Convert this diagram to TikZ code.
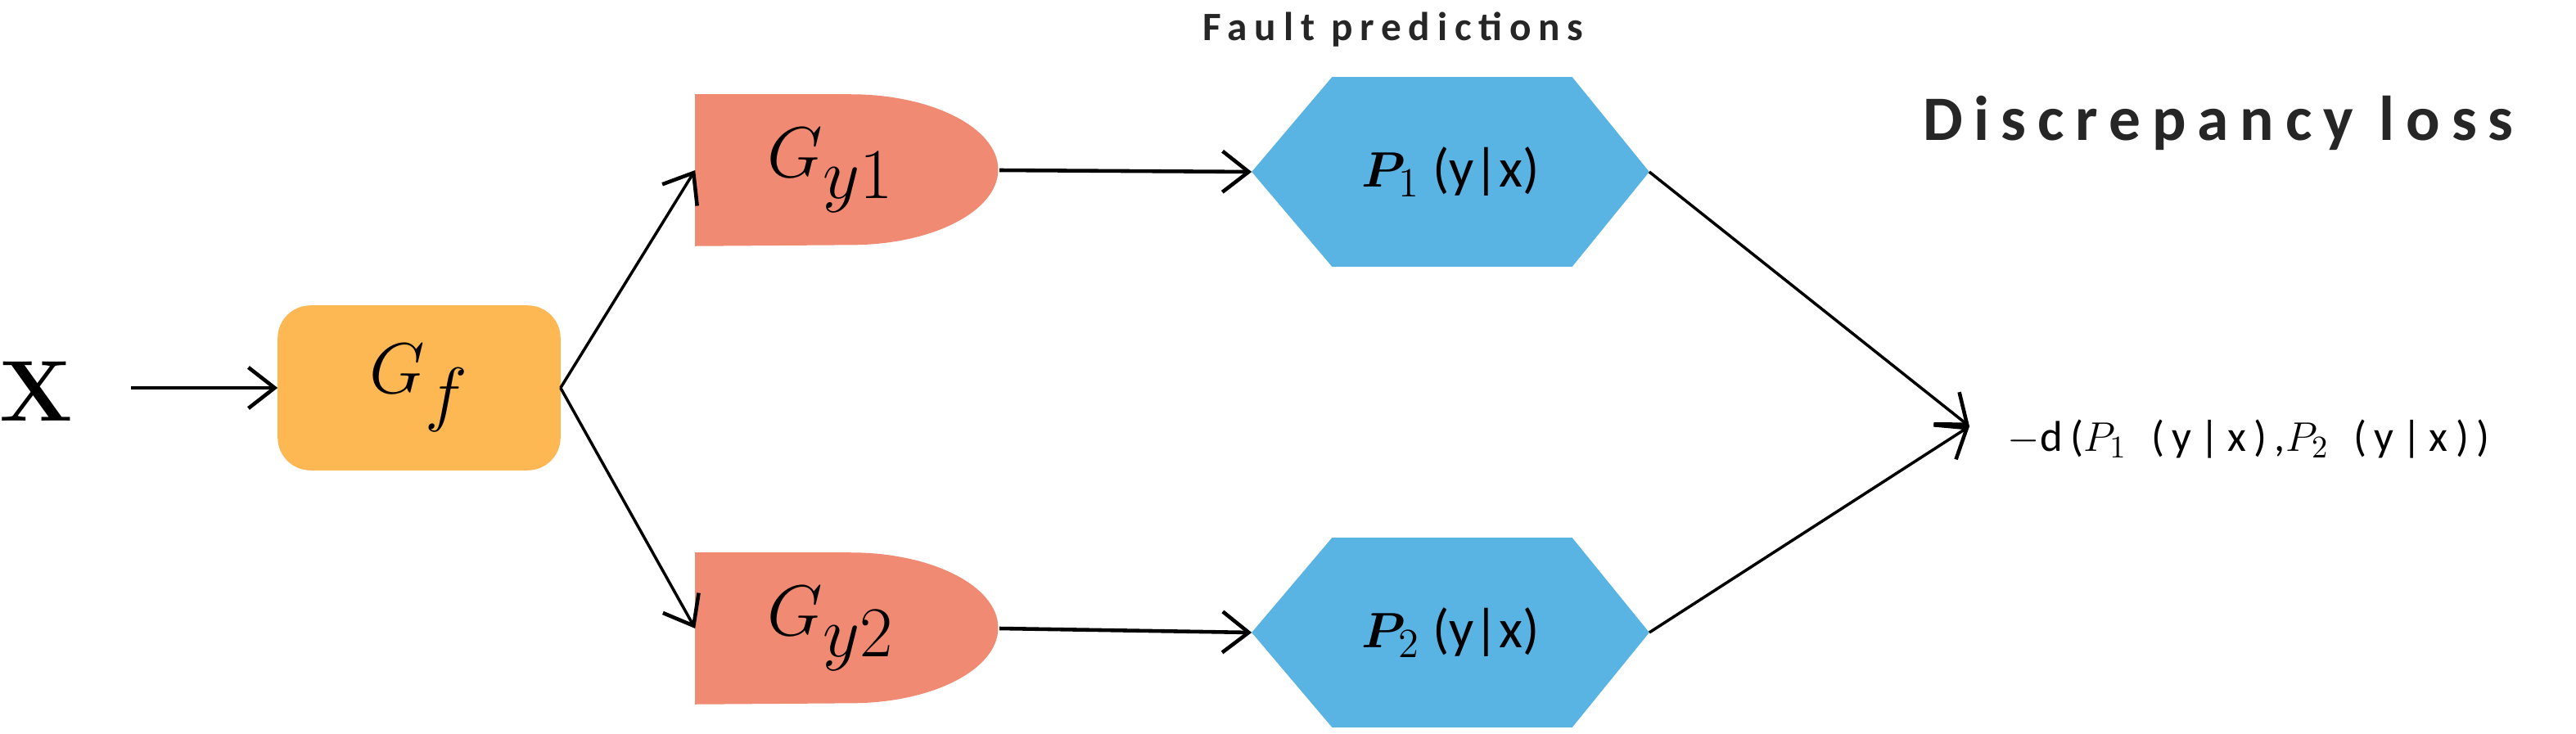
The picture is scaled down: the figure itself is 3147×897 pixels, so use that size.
\documentclass[tikz,border=0pt]{standalone}
\usepackage{amsmath}
\usepackage{fontspec}
\newfontfamily\carl{Carlito}
\newfontfamily\carlsp{Carlito}[LetterSpace=18]
\usetikzlibrary{arrows.meta,backgrounds,calc}
\definecolor{cOrange}{HTML}{FDB853}
\definecolor{cSalmon}{HTML}{F08A73}
\definecolor{cBlue}{HTML}{5AB4E3}
\tikzset{
  arr/.style={line width=1.3pt,-{Straight Barb[length=3.2mm,width=5mm,line width=1.3pt]}},
  box/.style={inner sep=0pt,anchor=center},
  gtxt/.style={font=\fontsize{33}{36}\selectfont},
  ptxt/.style={font=\carl\fontsize{19}{22}\selectfont},
}
\begin{document}
\begin{tikzpicture}[x=0.01cm,y=-0.01cm]
\useasboundingbox (0,0) rectangle (3147,897);
\node[box,font=\bfseries\fontsize{30}{32}\selectfont] (x) at (44,478) {X};
\node[box,minimum width=3.44cm,minimum height=2cm,gtxt] (gf) at (512,474) {$G_f$};
\node[box,minimum width=3.7cm,minimum height=1.84cm,gtxt] (gy1) at (1035,208) {\hspace*{-0.4cm}$G_{y1}$};
\node[box,minimum width=3.7cm,minimum height=1.84cm,gtxt] (gy2) at (1035,768) {\hspace*{-0.4cm}$G_{y2}$};
\node[box,minimum width=4.84cm,minimum height=2.3cm,ptxt] (p1) at (1772,210) {$\boldsymbol{P}_{\!1}$ (y|x)};
\node[box,minimum width=4.84cm,minimum height=2.3cm,ptxt] (p2) at (1772,773) {$\boldsymbol{P}_{\!2}$ (y|x)};
\coordinate (xs) at (160,474);
\coordinate (m) at (2406,521);
\node[anchor=west,inner sep=0pt,font=\carlsp\fontsize{15}{18}\selectfont] (d) at (2452,537) {$-$d($P_1$ \,(y|x),$P_2$ \,(y|x))};
\node[inner sep=0pt,font=\carlsp\bfseries\fontsize{14}{16}\selectfont,text=black!85] (fp) at (1702,36) {Fault predictions};
\node[inner sep=0pt,font=\carlsp\bfseries\fontsize{22}{24}\selectfont,text=black!85] (dl) at (2710,150) {Discrepancy loss};
\begin{pgfonlayer}{background}
\fill[cOrange,rounded corners=0.4cm] (gf.south west) rectangle (gf.north east);
\foreach \g in {gy1,gy2}{
\fill[cSalmon] (\g.south west) -- (\g.north west) -- ([xshift=1.9cm]\g.north west)
  arc[start angle=90,end angle=-90,x radius=1.8cm,y radius=0.92cm] -- cycle;}
\foreach \p in {p1,p2}{
\fill[cBlue] (\p.west) -- ([xshift=0.98cm]\p.north west) -- ([xshift=-0.94cm]\p.north east)
  -- (\p.east) -- ([xshift=-0.94cm]\p.south east) -- ([xshift=0.98cm]\p.south west) -- cycle;}
\end{pgfonlayer}
\draw[arr] (xs) -- (gf.west);
\draw[arr,line width=1pt] (gf.east) -- (gy1.west);
\draw[arr,line width=1pt] (gf.east) -- (gy2.west);
\draw[arr] (gy1.east) -- (p1.west);
\draw[arr] (gy2.east) -- (p2.west);
\draw[arr,line width=1pt] (p1.east) -- (m);
\draw[arr,line width=1pt] (p2.east) -- (m);
\end{tikzpicture}
\end{document}
